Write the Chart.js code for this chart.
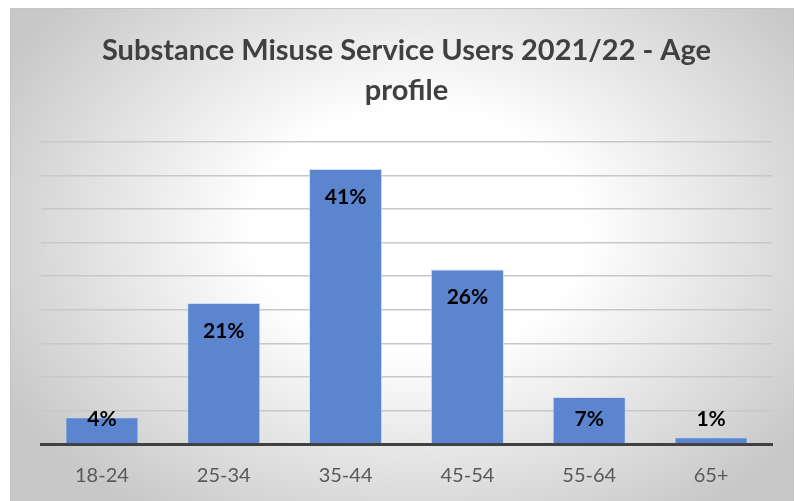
<!DOCTYPE html>
<html lang="en">
<head>
  <meta charset="UTF-8">
  <title>Substance Misuse Service Users 2021/22 - Age profile</title>
  <script src="https://cdn.jsdelivr.net/npm/chart.js"></script>
  <style>
    html, body {
      margin: 0;
      padding: 0;
      background: #fff;
    }
    #frame {
      position: absolute;
      left: 10px;
      top: 8px;
      width: 783px;
      height: 493px;
      border-top: 1px solid #c4c4c4;
      border-left: 1px solid #c4c4c4;
      background: radial-gradient(ellipse 60% 70% at 52% 45%, #ffffff 35%, #c8c8c8 100%);
    }
  </style>
</head>
<body>
  <div id="frame"><canvas id="ageChart" width="783" height="493"></canvas></div>

  <script>
    const ageGroups = ['18-24', '25-34', '35-44', '45-54', '55-64', '65+'];
    const shareOfUsers = [4, 21, 41, 26, 7, 1];
    const titleLines = ['Substance Misuse Service Users 2021/22 - Age', 'profile'];

    const fontFamily = 'Lato, "Open Sans", sans-serif';

    // value labels near the top of each bar, kept off the axis for short bars
    const barLabels = {
      id: 'barLabels',
      afterDatasetsDraw(chart) {
        const c = chart.ctx;
        const base = chart.scales.y.getPixelForValue(0);
        c.save();
        c.font = 'bold 21px ' + fontFamily;
        c.fillStyle = '#000';
        c.textAlign = 'center';
        c.textBaseline = 'middle';
        chart.getDatasetMeta(0).data.forEach((bar, i) => {
          const y = Math.min(bar.y + 28, base - 25);
          c.fillText(shareOfUsers[i] + '%', bar.x, y);
        });
        c.restore();
      }
    };

    new Chart(document.getElementById('ageChart'), {
      type: 'bar',
      data: {
        labels: ageGroups,
        datasets: [{
          data: shareOfUsers,
          backgroundColor: '#5b85cf',
          borderColor: 'rgba(200,215,240,0.8)',
          borderWidth: 1,
          categoryPercentage: 1,
          barPercentage: 0.6
        }]
      },
      options: {
        responsive: false,
        animation: false,
        layout: { padding: { left: 30, right: 22, top: 0, bottom: 8 } },
        plugins: {
          legend: { display: false },
          tooltip: { enabled: false },
          title: {
            display: true,
            text: titleLines,
            color: '#404040',
            font: { family: fontFamily, size: 29, weight: 'bold', lineHeight: 1.38 },
            padding: { top: 22, bottom: 31 }
          }
        },
        scales: {
          x: {
            grid: { display: false, drawTicks: false },
            border: { display: true, color: '#404040', width: 3 },
            ticks: {
              color: '#595959',
              font: { family: fontFamily, size: 20 },
              padding: 20
            },
            afterFit(scale) { scale.height = 50; }
          },
          y: {
            min: 0,
            max: 45,
            ticks: { display: false, stepSize: 5 },
            border: { display: false },
            grid: { color: '#c8c8c8', lineWidth: 1.5, drawTicks: false }
          }
        }
      },
      plugins: [barLabels]
    });
  </script>
</body>
</html>
